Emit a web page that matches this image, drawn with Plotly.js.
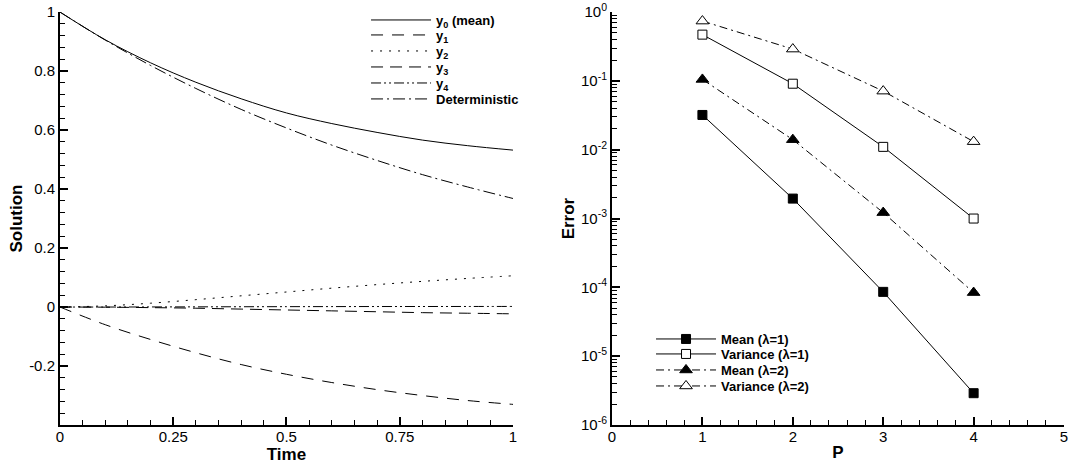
<!DOCTYPE html>
<html>
<head>
<meta charset="utf-8">
<script src="https://cdn.plot.ly/plotly-3.0.1.min.js"></script>
<style>
  html, body { margin: 0; padding: 0; background: #fff; }
  #chart { width: 1075px; height: 464px; }
</style>
</head>
<body>
<div id="chart"></div>
<script>
// Left panel: chaos modes of the solution against time
const time = [0, 0.1, 0.2, 0.3, 0.4, 0.5, 0.6, 0.7, 0.8, 0.9, 1.0];
const y0Mean = [1, 0.906, 0.828, 0.762, 0.706, 0.658, 0.622, 0.592, 0.566, 0.547, 0.532];
const y1Mode = [0, -0.060, -0.110, -0.155, -0.195, -0.228, -0.256, -0.280, -0.300, -0.317, -0.330];
const y2Mode = [0, 0.004, 0.013, 0.025, 0.038, 0.051, 0.064, 0.076, 0.087, 0.097, 0.106];
const y3Mode = [0, -0.0005, -0.002, -0.004, -0.007, -0.010, -0.013, -0.016, -0.019, -0.021, -0.023];
const y4Mode = [0, 0, 0.0003, 0.0006, 0.001, 0.0013, 0.0015, 0.0017, 0.0018, 0.0019, 0.002];
const deterministic = [1, 0.905, 0.819, 0.741, 0.670, 0.607, 0.549, 0.497, 0.449, 0.407, 0.368];

// Right panel: error against polynomial order P
const orderP = [1, 2, 3, 4];
const meanLam1 = [3.2e-2, 1.95e-3, 8.6e-5, 2.9e-6];
const varLam1 = [0.47, 0.091, 0.011, 1.0e-3];
const meanLam2 = [0.105, 0.014, 1.22e-3, 8.4e-5];
const varLam2 = [0.74, 0.29, 0.071, 0.0131];

const leftXTicks = [0, 0.25, 0.5, 0.75, 1];
const leftXLabels = ['0', '0.25', '0.5', '0.75', '1'];
const leftYTicks = [-0.2, 0, 0.2, 0.4, 0.6, 0.8, 1];
const leftYLabels = ['-0.2', '0', '0.2', '0.4', '0.6', '0.8', '1'];
const rightXTicks = [0, 1, 2, 3, 4, 5];
const rightYTicks = [1e-6, 1e-5, 1e-4, 1e-3, 1e-2, 1e-1, 1];
const rightYLabels = ['10<sup>-6</sup>', '10<sup>-5</sup>', '10<sup>-4</sup>', '10<sup>-3</sup>',
                      '10<sup>-2</sup>', '10<sup>-1</sup>', '10<sup>0</sup>'];

// minor ticks on the log axis: 2..9 within each decade
const logMinor = [];
for (let e = -6; e < 0; e++) {
  for (let m = 2; m <= 9; m++) logMinor.push(m * Math.pow(10, e));
}

const FONT = 'Liberation Sans, Arial, Helvetica, sans-serif';
const BLACK = '#000';

// each legend row is its own legend box so the rows can sit tightly stacked
function legendId(i) { return i === 0 ? 'legend' : 'legend' + (i + 1); }

function modeTrace(y, name, dash, row) {
  return {
    x: time, y: y, name: name, type: 'scatter', mode: 'lines',
    line: { color: BLACK, width: 1, dash: dash, shape: 'spline', smoothing: 1 },
    xaxis: 'x', yaxis: 'y', legend: legendId(row)
  };
}

function errTrace(y, name, symbol, fill, dash, row) {
  return {
    x: orderP, y: y, name: name, type: 'scatter', mode: 'lines+markers',
    line: { color: BLACK, width: 1, dash: dash },
    marker: { symbol: symbol, size: symbol.indexOf('square') === 0 ? 9 : 11,
              color: fill, line: { color: BLACK, width: 1 } },
    xaxis: 'x2', yaxis: 'y2', legend: legendId(row)
  };
}

const data = [
  modeTrace(y0Mean, 'y<sub>0</sub> (mean)', 'solid', 0),
  modeTrace(y1Mode, 'y<sub>1</sub>', '12px,9px', 1),
  modeTrace(y2Mode, 'y<sub>2</sub>', '2px,7px', 2),
  modeTrace(y3Mode, 'y<sub>3</sub>', '12px,7px', 3),
  modeTrace(y4Mode, 'y<sub>4</sub>', '10px,3px,2px,3px,2px,3px', 4),
  modeTrace(deterministic, 'Deterministic', '12px,4px,2px,4px', 5),
  errTrace(meanLam1, 'Mean (λ=1)', 'square', BLACK, 'solid', 6),
  errTrace(varLam1, 'Variance (λ=1)', 'square', '#fff', 'solid', 7),
  errTrace(meanLam2, 'Mean (λ=2)', 'triangle-up', BLACK, '8px,4px,2px,4px', 8),
  errTrace(varLam2, 'Variance (λ=2)', 'triangle-up', '#fff', '8px,4px,2px,4px', 9)
];

const tickFont = { family: FONT, size: 15, color: BLACK };
const titleFont = { family: FONT, size: 17, color: BLACK, weight: 'bold' };
const legendFont = { family: FONT, size: 13, color: BLACK, weight: 'bold' };

const axisCommon = {
  showline: true, linecolor: BLACK, linewidth: 2,
  showgrid: false, zeroline: false, mirror: false,
  ticks: 'inside', ticklen: 8, tickwidth: 2, tickcolor: BLACK,
  tickfont: tickFont, automargin: false, fixedrange: true
};

const plotTop = 0.974, plotBottom = 0.084;

const layout = {
  width: 1075, height: 464,
  margin: { l: 0, r: 0, t: 0, b: 0 },
  paper_bgcolor: '#fff', plot_bgcolor: '#fff',
  font: { family: FONT, color: BLACK },
  xaxis: Object.assign({}, axisCommon, {
    domain: [0.0558, 0.4772], range: [0, 1], anchor: 'y',
    tickmode: 'array', tickvals: leftXTicks, ticktext: leftXLabels, ticklabelstandoff: -3,
    minor: { ticks: 'inside', ticklen: 5, tickwidth: 1, tickcolor: BLACK, dtick: 0.05, tick0: 0 },
    title: { text: 'Time', font: titleFont, standoff: 2 }
  }),
  yaxis: Object.assign({}, axisCommon, {
    domain: [plotBottom, plotTop], range: [-0.4, 1], anchor: 'x',
    tickmode: 'array', tickvals: leftYTicks, ticktext: leftYLabels,
    minor: { ticks: 'inside', ticklen: 5, tickwidth: 1, tickcolor: BLACK, dtick: 0.04, tick0: 0 },
    title: { text: 'Solution', font: titleFont, standoff: 2 }
  }),
  xaxis2: Object.assign({}, axisCommon, {
    domain: [0.5693, 0.9898], range: [0, 5], anchor: 'y2',
    tickmode: 'array', tickvals: rightXTicks, ticktext: rightXTicks.map(String), ticklabelstandoff: -3,
    minor: { ticks: 'inside', ticklen: 5, tickwidth: 1, tickcolor: BLACK, dtick: 0.2, tick0: 0 },
    title: { text: 'P', font: titleFont, standoff: 2 }
  }),
  yaxis2: Object.assign({}, axisCommon, {
    type: 'log', domain: [plotBottom, plotTop], range: [-6, 0], anchor: 'x2',
    tickmode: 'array', tickvals: rightYTicks, ticktext: rightYLabels,
    minor: { ticks: 'inside', ticklen: 5, tickwidth: 1, tickcolor: BLACK, tickmode: 'array', tickvals: logMinor },
    title: { text: 'Error', font: titleFont, standoff: 2 }
  }),
  showlegend: true
};

// legend row placement (paper coordinates, top-left of each row)
const leftLegendX = 0.3405;
const leftLegendRows = [0.9892, 0.9569, 0.9224, 0.8879, 0.8534, 0.8190];
const rightLegendX = 0.6056;
const rightLegendRows = [0.3017, 0.2694, 0.2349, 0.2004];

function legendBox(x, y) {
  return {
    x: x, y: y, xanchor: 'left', yanchor: 'top',
    bgcolor: 'rgba(0,0,0,0)', borderwidth: 0, font: legendFont,
    itemwidth: 60, tracegroupgap: 0
  };
}

leftLegendRows.forEach((y, i) => { layout[legendId(i)] = legendBox(leftLegendX, y); });
rightLegendRows.forEach((y, i) => { layout[legendId(i + 6)] = legendBox(rightLegendX, y); });

Plotly.newPlot('chart', data, layout, { staticPlot: true, displayModeBar: false });
</script>
</body>
</html>
